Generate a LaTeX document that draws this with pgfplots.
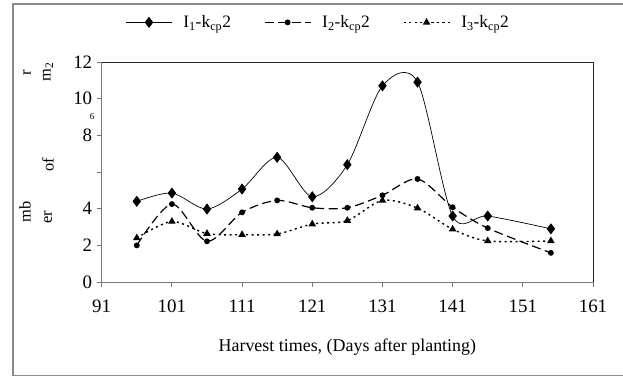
\documentclass[border=0pt]{standalone}
\usepackage{fontspec}
\setmainfont{Liberation Serif}
\usepackage{pgfplots}
\pgfplotsset{compat=1.18}

\definecolor{framegray}{RGB}{140,140,140}
\definecolor{axisgray}{RGB}{120,120,120}

\begin{document}
\begin{tikzpicture}[x=1bp,y=1bp]
  \begin{axis}[
    width=491.3bp, height=220bp, scale only axis,
    xmin=91, xmax=161, ymin=0, ymax=12,
    xtick={91,101,...,161},
    ytick={0,2,...,12},
    yticklabels={0,2,4,,8,10,12},
    xtick pos=bottom, ytick pos=left,
    tick align=outside,
    major tick length=5bp,
    axis line style={axisgray, line width=0.9bp},
    every tick/.style={axisgray, line width=0.9bp},
    /pgf/number format/assume math mode=true,
    ticklabel style={font=\fontsize{19}{19}\selectfont},
    xticklabel style={yshift=-9bp},
    yticklabel style={xshift=-1bp},
    xlabel={Harvest times, (Days after planting)},
    xlabel style={font=\fontsize{18}{20}\selectfont, yshift=-20bp},
    legend columns=3,
    legend style={
      at={(0.45,1.18)}, anchor=center, draw=none, fill=none,
      font=\fontsize{17.5}{18}\selectfont,
      /tikz/every even column/.append style={column sep=22bp},
      nodes={inner xsep=11bp},
    },
    legend image code/.code={
      \draw[mark repeat=2, mark phase=2] plot coordinates {(0bp,0bp) (23bp,0bp) (46bp,0bp)};
    },
    clip=false,
  ]
    \coordinate (A0) at (rel axis cs:0,0);
    % darker upper and right edges of the plot box
    \draw[black!85, line width=0.9bp] (rel axis cs:0,1) -- (rel axis cs:1,1) -- (rel axis cs:1,0);
    % I1-kcp2
    \addplot[black, line width=0.7bp, smooth, mark=diamond*, mark size=5bp,
             mark options={solid, fill=black}]
      coordinates {(96,4.4) (101,4.85) (106,3.98) (111,5.07) (116,6.8) (121,4.65)
                   (126,6.4) (131,10.7) (136,10.9) (141,3.6) (146,3.6) (155,2.9)};
    \addlegendentry{I\textsubscript{1}-k\textsubscript{cp}2}
    % I2-kcp2
    \addplot[black, line width=1.2bp, smooth, dash pattern=on 9bp off 4.5bp,
             mark=*, mark size=2.3bp, mark options={solid}]
      coordinates {(96,2.0) (101,4.25) (106,2.22) (111,3.8) (116,4.45) (121,4.05)
                   (126,4.05) (131,4.73) (136,5.62) (141,4.08) (146,2.94) (155,1.59)};
    \addlegendentry{I\textsubscript{2}-k\textsubscript{cp}2}
    % I3-kcp2
    \addplot[black, line width=1.4bp, smooth, dash pattern=on 2bp off 3.5bp,
             mark=triangle*, mark size=3bp, mark options={solid}]
      coordinates {(96,2.4) (101,3.3) (106,2.64) (111,2.58) (116,2.62) (121,3.16)
                   (126,3.35) (131,4.45) (136,4.03) (141,2.88) (146,2.24) (155,2.24)};
    \addlegendentry{I\textsubscript{3}-k\textsubscript{cp}2}
  \end{axis}

  % page area measured from the lower-left corner of the plot box
  \pgfresetboundingbox
  \begin{scope}[shift={(A0)}, xshift=-101.7bp, yshift=-95bp]
    \path[use as bounding box] (0,0) rectangle (623,377);
    \draw[framegray, line width=1.2bp] (623,373) -- (13,373) -- (13,1.5) -- (623,1.5);

    % vertical axis title, set in separate pieces
    \begin{scope}[font=\fontsize{16.5}{18}\selectfont]
      \node[rotate=90] at (25,165) {mb};
      \node[rotate=90] at (27,304) {r};
      \node[rotate=90] at (48,160) {er};
      \node[rotate=90] at (48,212) {of};
      \node[rotate=90] at (48,305) {m\textsubscript{2}};
    \end{scope}
    \node[font=\fontsize{9}{9}\selectfont] at (92,260) {6};
  \end{scope}
\end{tikzpicture}
\end{document}
